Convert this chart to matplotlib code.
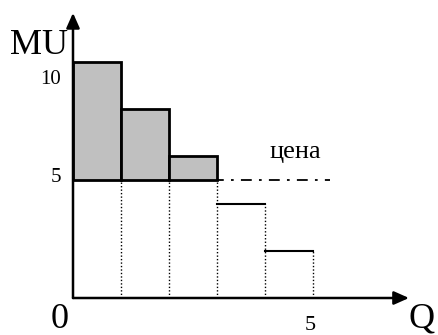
import matplotlib.pyplot as plt
from matplotlib.patches import Rectangle

# marginal utility of each unit and the price
mu = [10, 8, 6, 4, 2]
price = 5
y_ticks = [5, 10]
x_ticks = [5]

plt.rcParams['font.family'] = ['Liberation Serif', 'DejaVu Serif']

fig = plt.figure(figsize=(4.38, 3.35), dpi=100)
ax = fig.add_axes([0, 0, 1, 1])
ax.set_xlim(-73 / 48, 365 / 48)
ax.set_ylim(-37 / 23.6, 298 / 23.6)
ax.axis('off')

for i, v in enumerate(mu):
    if v > price:
        # surplus part above the price
        ax.add_patch(Rectangle((i, price), 1, v - price, facecolor='#c0c0c0',
                               edgecolor='black', lw=2, zorder=3))
        ax.plot([i + 1, i + 1], [0, price], color='black', lw=1, ls=(0, (1, 1.5)))
    else:
        ax.plot([i, i + 1], [v, v], color='black', lw=1.5, zorder=3)
        ax.plot([i + 1, i + 1], [0, v], color='black', lw=1, ls=(0, (1, 1.5)))

# price line
ax.plot([0, 5.35], [price, price], color='black', lw=1.3, ls=(0, (6, 4, 1.5, 4)), zorder=2)
ax.text(4.63, price + 1.2, 'цена', fontsize=19, ha='center', va='center')

# axes with arrows
ax.annotate('', xy=(0, 12.08), xytext=(0, 0),
            arrowprops=dict(arrowstyle='-|>,head_width=0.4,head_length=0.9',
                            color='black', lw=1.8, shrinkA=0, shrinkB=0))
ax.annotate('', xy=(7.0, 0), xytext=(0, 0),
            arrowprops=dict(arrowstyle='-|>,head_width=0.4,head_length=0.9',
                            color='black', lw=1.8, shrinkA=0, shrinkB=0))

ax.text(-0.1, 10.68, 'MU', fontsize=26, ha='right', va='center')
ax.text(-0.27, -0.93, '0', fontsize=26, ha='center', va='center')
ax.text(7.27, -0.88, 'Q', fontsize=26, ha='center', va='center')
for t in y_ticks:
    ax.text(-0.25, t + (-0.75 if t == 10 else 0.1), str(t), fontsize=15,
            ha='right', va='center')
for t in x_ticks:
    ax.text(t - 0.06, -1.15, str(t), fontsize=16, ha='center', va='center')

fig.savefig('out.png', dpi=100)
